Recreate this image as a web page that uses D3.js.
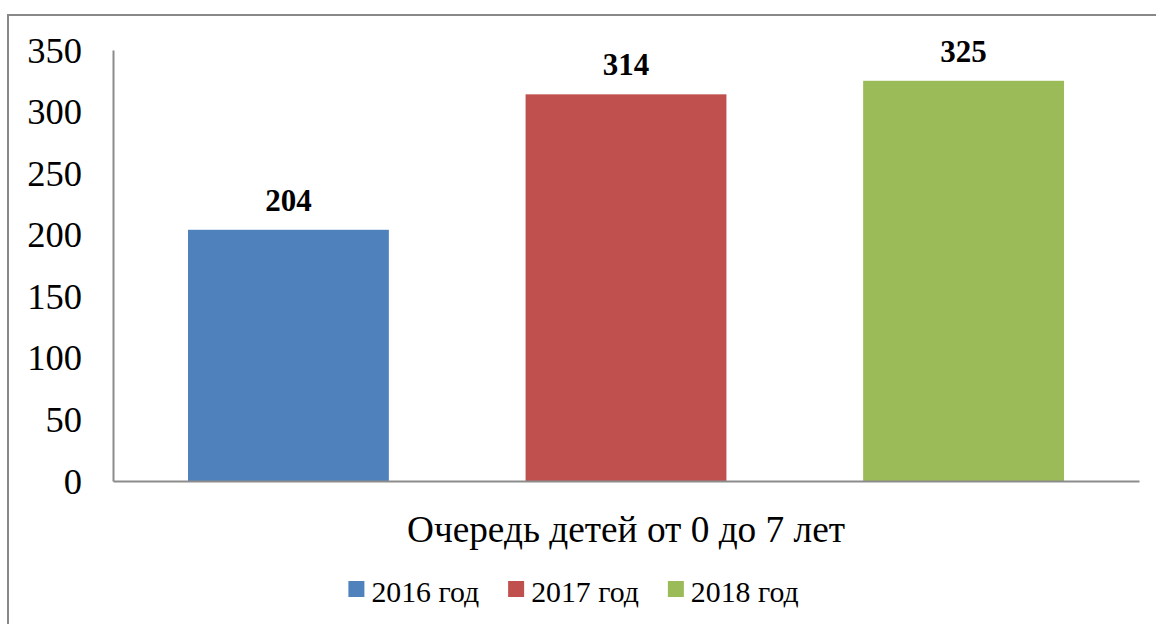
<!DOCTYPE html>
<html>
<head>
<meta charset="utf-8">
<script src="https://cdn.jsdelivr.net/npm/d3@7"></script>
<style>
  body { margin: 0; background: #fff; }
  svg { display: block; }
  svg text { font-family: "Liberation Serif", "Times New Roman", serif; }
</style>
</head>
<body>
<div id="chart"></div>
<script>
const width = 1156;
const height = 624;

// data
const category = "Очередь детей от 0 до 7 лет";
const seriesNames = ["2016 год", "2017 год", "2018 год"];
const seriesValues = [204, 314, 325];
const seriesColors = ["#4F81BD", "#C0504D", "#9BBB59"];
const yTicks = [0, 50, 100, 150, 200, 250, 300, 350];

const plot = { left: 113, right: 1139, top: 50, bottom: 481 };

const svg = d3.select("#chart").append("svg")
    .attr("width", width)
    .attr("height", height);

// outer chart border (only top and left visible)
svg.append("rect")
    .attr("x", 8)
    .attr("y", 15)
    .attr("width", 1200)
    .attr("height", 700)
    .attr("fill", "none")
    .attr("stroke", "#888")
    .attr("stroke-width", 2);

const y = d3.scaleLinear()
    .domain([0, 350])
    .range([plot.bottom, plot.top]);

const x0 = d3.scaleBand()
    .domain([category])
    .range([plot.left, plot.right])
    .paddingInner(0)
    .paddingOuter(0.0856);

const x1 = d3.scaleBand()
    .domain(seriesNames)
    .range([0, x0.bandwidth()])
    .paddingInner(0.405)
    .paddingOuter(0);

// bars
const bars = svg.append("g")
    .attr("transform", `translate(${x0(category)},0)`);

bars.selectAll("rect")
  .data(seriesNames)
  .join("rect")
    .attr("x", d => x1(d))
    .attr("y", (d, i) => y(seriesValues[i]))
    .attr("width", x1.bandwidth())
    .attr("height", (d, i) => y(0) - y(seriesValues[i]))
    .attr("fill", (d, i) => seriesColors[i]);

bars.selectAll("text")
  .data(seriesNames)
  .join("text")
    .attr("x", d => x1(d) + x1.bandwidth() / 2)
    .attr("y", (d, i) => y(seriesValues[i]) - 19)
    .attr("text-anchor", "middle")
    .attr("font-size", 31)
    .attr("font-weight", "bold")
    .attr("fill", "#000")
    .text((d, i) => seriesValues[i]);

// y axis
const yAxis = svg.append("g")
    .attr("transform", `translate(${plot.left},0)`)
    .call(d3.axisLeft(y).tickValues(yTicks).tickSize(0).tickPadding(31));
yAxis.select(".domain").attr("stroke", "#8c8c8c").attr("stroke-width", 2);
yAxis.selectAll("text")
    .attr("font-size", 36.5)
    .attr("fill", "#000")
    .attr("dy", "0.33em");

// x axis
const xAxis = svg.append("g")
    .attr("transform", `translate(0,${plot.bottom})`)
    .call(d3.axisBottom(x0).tickSize(0).tickFormat(""));
xAxis.select(".domain").attr("stroke", "#8c8c8c").attr("stroke-width", 2);

svg.append("text")
    .attr("x", x0(category) + x0.bandwidth() / 2)
    .attr("y", 542)
    .attr("text-anchor", "middle")
    .attr("font-size", 37.3)
    .attr("fill", "#000")
    .text(category);

// legend
const legend = svg.append("g");
const items = legend.selectAll("g")
  .data(seriesNames)
  .join("g");

items.append("rect")
    .attr("width", 16)
    .attr("height", 16)
    .attr("y", 581)
    .attr("fill", (d, i) => seriesColors[i]);

items.append("text")
    .attr("x", 23)
    .attr("y", 602)
    .attr("font-size", 29.8)
    .attr("fill", "#000")
    .text(d => d);

let cursor = 0;
items.each(function() {
  const w = this.getBBox().width;
  d3.select(this).attr("transform", `translate(${cursor},0)`);
  cursor += w + 29;
});
const totalW = cursor - 29;
legend.attr("transform", `translate(${573.5 - totalW / 2},0)`);
</script>
</body>
</html>
